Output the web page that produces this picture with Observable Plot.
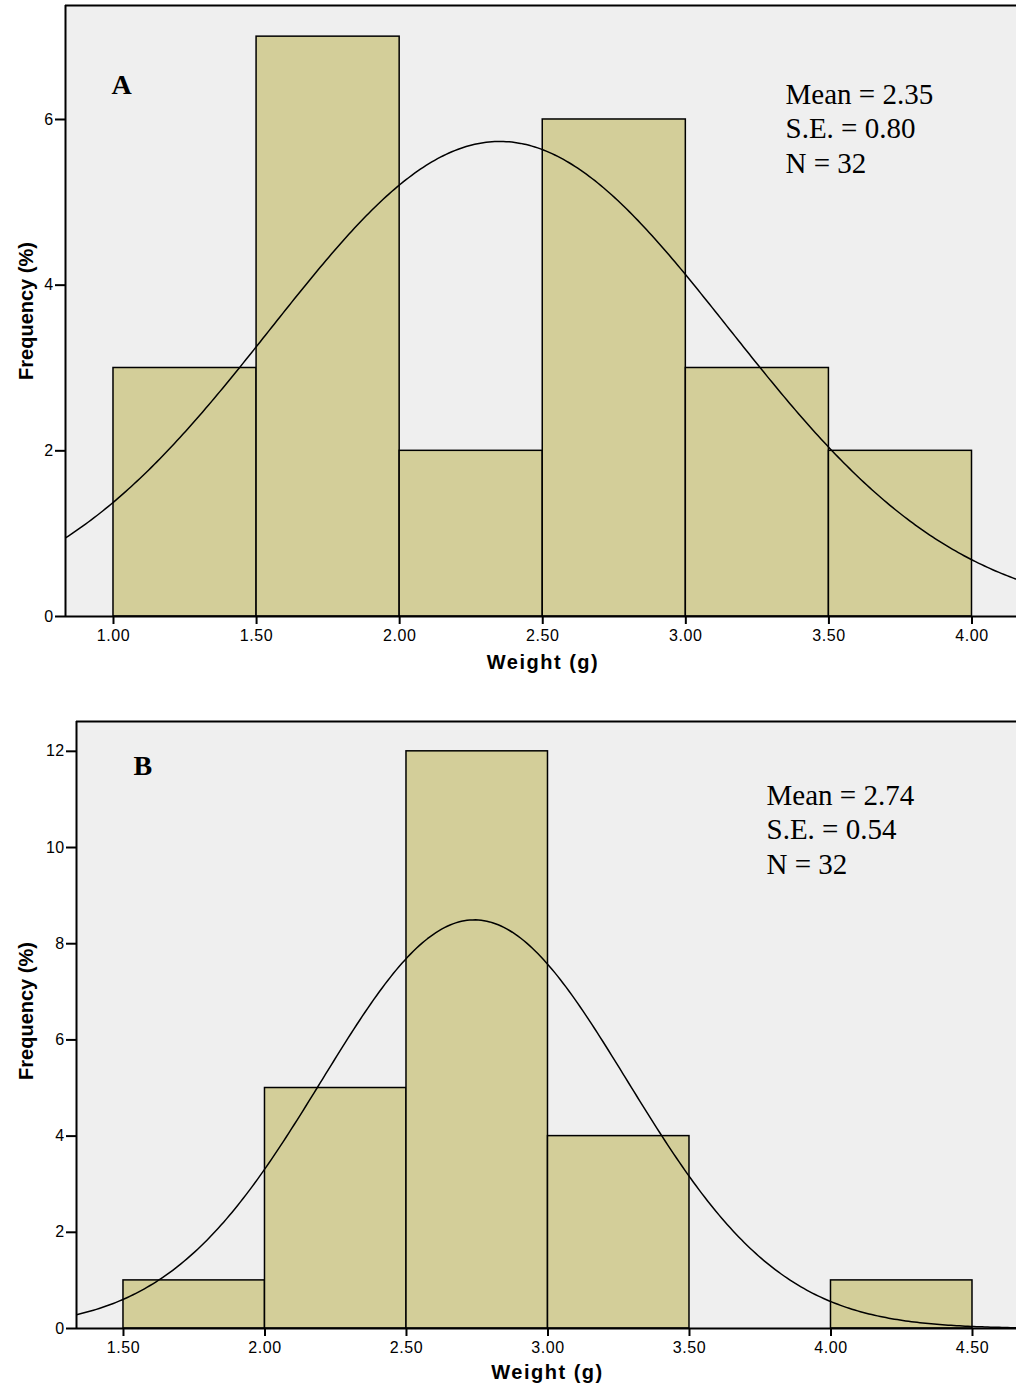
<!DOCTYPE html>
<html>
<head>
<meta charset="utf-8">
<script src="https://cdn.jsdelivr.net/npm/d3@7"></script>
<script src="https://cdn.jsdelivr.net/npm/@observablehq/plot@0.6"></script>
<style>
  body { margin: 0; background: #fff; }
  #chart svg { display: block; }
  #chart svg g[aria-label="x-axis tick label"] text { font-size: 16px !important; letter-spacing: 0.6px; }
  #chart svg g[aria-label="y-axis tick label"] text { font-size: 16px !important; letter-spacing: 0.4px; }
  .xlab { letter-spacing: 1.5px; }
</style>
</head>
<body>
<div id="chart"></div>
<script>
// ---------- Data ----------
const binStartsA = [1.0, 1.5, 2.0, 2.5, 3.0, 3.5];
const countsA    = [3, 7, 2, 6, 3, 2];
const statsA     = { mean: 2.35, se: 0.80, n: 32 };
const yTicksA    = [0, 2, 4, 6];
const xTicksA    = [1.0, 1.5, 2.0, 2.5, 3.0, 3.5, 4.0];

const binStartsB = [1.5, 2.0, 2.5, 3.0, 3.5, 4.0];
const countsB    = [1, 5, 12, 4, 0, 1];
const statsB     = { mean: 2.74, se: 0.54, n: 32 };
const yTicksB    = [0, 2, 4, 6, 8, 10, 12];
const xTicksB    = [1.5, 2.0, 2.5, 3.0, 3.5, 4.0, 4.5];

const binWidth = 0.5;
const xLabel = "Weight (g)";
const yLabel = "Frequency (%)";

const BG = "#efefef";
const BAR = "#d3ce99";

// fitted normal curve (SPSS overlay) from the listed mean and S.E.
function normalCurve(counts, stats, domain) {
  const total = d3.sum(counts);
  const xs = d3.range(domain[0], domain[1] + 0.005, 0.01);
  return xs.map(x => ({
    x,
    y: total * binWidth / (stats.se * Math.sqrt(2 * Math.PI)) *
       Math.exp(-0.5 * ((x - stats.mean) / stats.se) ** 2)
  }));
}

function panel(o) {
  const bars = o.starts.map((s, i) => ({x1: s, x2: s + binWidth, y: o.counts[i]}));
  const curve = normalCurve(o.counts, o.stats, o.xDomain);
  const statsText = `Mean = ${o.stats.mean.toFixed(2)}\nS.E. = ${o.stats.se.toFixed(2)}\nN = ${o.stats.n}`;
  return Plot.plot({
    width: 1016,
    height: o.height,
    marginLeft: o.ml,
    marginRight: 0,
    marginTop: o.mt,
    marginBottom: o.mb,
    style: {fontFamily: "'Liberation Sans', Arial, sans-serif", background: "#fff"},
    x: {domain: o.xDomain, ticks: o.xTicks, tickFormat: d3.format(".2f")},
    y: {domain: o.yDomain, ticks: o.yTicks},
    marks: [
      Plot.frame({fill: BG, stroke: null}),
      Plot.rectY(bars, {x1: "x1", x2: "x2", y: "y", fill: BAR, stroke: "#000", strokeWidth: 1.5}),
      Plot.line(curve, {x: "x", y: "y", stroke: "#000", strokeWidth: 1.5, clip: true}),
      Plot.ruleX([o.xDomain[0]], {stroke: "#000", strokeWidth: 2}),
      Plot.ruleY([o.yDomain[1]], {stroke: "#000", strokeWidth: 2}),
      Plot.ruleY([0], {stroke: "#000", strokeWidth: 2}),
      Plot.axisX({ticks: o.xTicks, tickFormat: d3.format(".2f"), tickSize: 8, tickPadding: 5,
                  fontSize: 16, label: null, strokeWidth: 2}),
      Plot.axisY({ticks: o.yTicks, tickSize: 10, tickPadding: 2, fontSize: 16, label: null, strokeWidth: 2}),
      Plot.text([o.letter], {frameAnchor: "top-left", textAnchor: "start", lineAnchor: "top",
        dx: o.letterDx, dy: o.letterDy, fontSize: 28, fontWeight: "bold",
        fontFamily: "'Liberation Serif', 'Times New Roman', serif", fill: "#000"}),
      Plot.text([statsText], {frameAnchor: "top-left", textAnchor: "start", lineAnchor: "top",
        dx: o.statsDx, dy: o.statsDy, fontSize: 29, lineHeight: 34.5 / 29,
        fontFamily: "'Liberation Serif', 'Times New Roman', serif", fill: "#000"}),
      Plot.text([xLabel], {frameAnchor: "bottom", textAnchor: "middle", lineAnchor: "bottom",
        dx: o.xlabDx, dy: o.xlabDy, fontSize: 20, fontWeight: "bold", fill: "#000", className: "xlab"}),
      Plot.text([yLabel], {frameAnchor: "left", textAnchor: "middle", rotate: -90, lineAnchor: "middle",
        dx: o.ylabDx, dy: o.ylabDy, fontSize: 20, fontWeight: "bold", fill: "#000"})
    ]
  });
}

const chart = document.getElementById("chart");
chart.appendChild(panel({
  starts: binStartsA, counts: countsA, stats: statsA, letter: "A",
  xDomain: [0.8323, 4.1555], yDomain: [0, 7.376], xTicks: xTicksA, yTicks: yTicksA,
  height: 700, ml: 65, mt: 5, mb: 84,
  letterDx: 46, letterDy: 69, statsDx: 720, statsDy: 74,
  xlabDx: 2, xlabDy: 52, ylabDx: -39, ylabDy: 0
}));
chart.appendChild(panel({
  starts: binStartsB, counts: countsB, stats: statsB, letter: "B",
  xDomain: [1.334, 4.6555], yDomain: [0, 12.62], xTicks: xTicksB, yTicks: yTicksB,
  height: 689, ml: 76, mt: 21, mb: 61,
  letterDx: 57, letterDy: 34, statsDx: 690, statsDy: 59,
  xlabDx: 1, xlabDy: 50, ylabDx: -50, ylabDy: -14
}));
</script>
</body>
</html>
